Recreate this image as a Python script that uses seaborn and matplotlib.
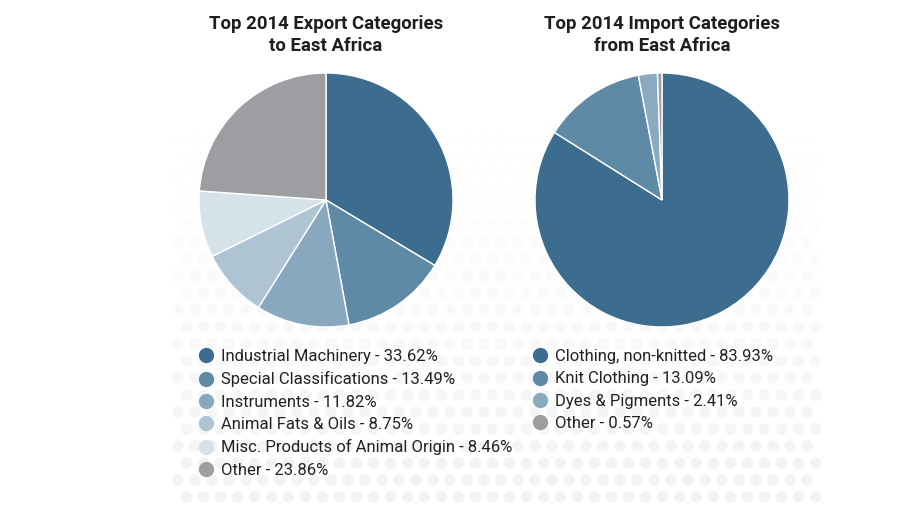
import numpy as np
import matplotlib.pyplot as plt
import seaborn as sns
from matplotlib.lines import Line2D

# Data
export_labels = ["Industrial Machinery", "Special Classifications", "Instruments",
                 "Animal Fats & Oils", "Misc. Products of Animal Origin", "Other"]
export_values = [33.62, 13.49, 11.82, 8.75, 8.46, 23.86]
export_colors = ["#3c6d8f", "#5f8aa6", "#87a8be", "#aec4d3", "#d6e2ea", "#9d9ea2"]

import_labels = ["Clothing, non-knitted", "Knit Clothing", "Dyes & Pigments", "Other"]
import_values = [83.93, 13.09, 2.41, 0.57]
import_colors = ["#3c6d8f", "#5f8aa6", "#8aaabf", "#9d9ea2"]

export_title = "Top 2014 Export Categories\nto East Africa"
import_title = "Top 2014 Import Categories\nfrom East Africa"

sns.set_theme(style="white")
plt.rcParams['font.family'] = ['Roboto', 'DejaVu Sans']

W, H = 900, 508
fig = plt.figure(figsize=(9, 5.08), dpi=100)
fig.patch.set_facecolor("white")


def px(x, y, w, h):
    # pixel box (top-left origin) -> figure fraction
    return [x / W, 1 - (y + h) / H, w / W, h / H]


# faint halftone dot background, fading out towards the top
bg = fig.add_axes([0, 0, 1, 1], zorder=0)
gx, gy = np.meshgrid(np.arange(178, 812, 17.0), np.arange(140, 515, 17.0))
gx = gx + (((gy - 140) / 17) % 2) * 8.5
fade = np.clip((gy - 130) / 330, 0, 1) ** 1.2
cols = np.zeros((gx.size, 4))
cols[:, :3] = 0.90
cols[:, 3] = 0.45 * fade.ravel()
bg.scatter(gx.ravel(), gy.ravel(), s=70, c=cols, linewidths=0)
bg.set_xlim(0, W)
bg.set_ylim(H, 0)
bg.axis("off")


def draw_pie(box, values, colors, title, tx):
    ax = fig.add_axes(px(*box), zorder=2)
    ax.pie(values, colors=colors, startangle=90, counterclock=False,
           wedgeprops=dict(edgecolor="white", linewidth=1.0))
    ax.set_xlim(-1, 1)
    ax.set_ylim(-1, 1)
    ax.set_aspect("equal")
    fig.text(tx / W, 1 - 35 / H, title, ha="center", va="center",
             fontsize=13.4, fontweight="bold", color="#1e1e1e",
             linespacing=1.3, zorder=3)


draw_pie((199, 73, 254, 254), export_values, export_colors, export_title, 326)
draw_pie((535, 73, 254, 254), import_values, import_colors, import_title, 662)


def draw_legend(labels, values, colors, x, y):
    handles = [Line2D([], [], marker="o", linestyle="", markersize=10,
                      markerfacecolor=c, markeredgecolor=c) for c in colors]
    texts = [f"{l} - {v:.2f}%" for l, v in zip(labels, values)]
    leg = fig.legend(handles, texts, loc="upper left",
                     bbox_to_anchor=(x / W, 1 - y / H), frameon=False,
                     fontsize=12, handlelength=0.75, handletextpad=0.5,
                     labelspacing=0.44, borderpad=0, borderaxespad=0)
    for t in leg.get_texts():
        t.set_color("#222222")
    leg.set_zorder(3)


draw_legend(export_labels, export_values, export_colors, 200, 349)
draw_legend(import_labels, import_values, import_colors, 534, 349)

fig.savefig("out.png", dpi=100, facecolor="white")
